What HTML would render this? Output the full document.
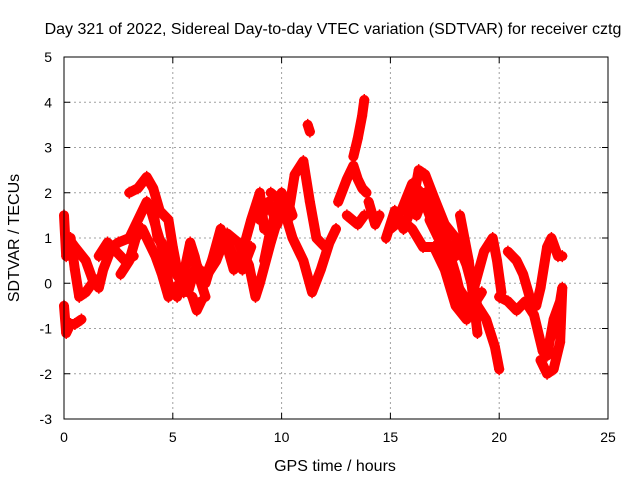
<!DOCTYPE html>
<html><head><meta charset="utf-8"><style>
body{margin:0;background:#fff}
svg{display:block;font-family:"Liberation Sans",sans-serif}
</style></head><body>
<svg id="chart" width="640" height="480">
<text x="333" y="34" font-size="16" text-anchor="middle">Day 321 of 2022, Sidereal Day-to-day VTEC variation (SDTVAR) for receiver cztg</text>
<text x="335" y="471" font-size="16" text-anchor="middle">GPS time / hours</text>
<text x="19" y="238" font-size="16" text-anchor="middle" transform="rotate(-90 19 238)">SDTVAR / TECUs</text>
<g id="grid"></g><g id="marks"></g>
<rect x="64" y="57" width="544" height="362" fill="none" stroke="#000" stroke-width="1"/>
</svg>
<script>
const xTicks=[0,5,10,15,20,25];
const yTicks=[-3,-2,-1,0,1,2,3,4,5];
const trackTimes=[
[0,0.1,0.3,0.5,0.7,1.0,1.3,1.6],
[0,0.1,0.3,0.5,0.8],
[0.2,0.5,1.0,1.3,1.6,1.8,2.2,2.5,3.0,3.5,3.8,4.1,4.3,4.6,5.0],
[3.0,3.4,3.8,4.1,4.4,4.8,5.0,5.2,5.5],
[2.6,3.0,3.3,3.6,3.9,4.2,4.5,4.8,5.0,5.3],
[4.0,4.5,4.8,5.2,5.5,5.8,6.0,6.3,6.5],
[5.9,6.1,6.3],
[6.5,7.0,7.5,8.0,8.5,8.8,9.0,9.5,10.0],
[6.8,7.2,7.5,7.8,8.2,8.6,9.0,9.2],
[9.2,9.5,10.0,10.3,10.6,11.0,11.3,11.6,12.0],
[9.5,10.0,10.5,11.0,11.4,11.8,12.2,12.5],
[11.2,11.3],
[12.6,13.0,13.3,13.5,13.7,13.9],
[13.3,13.5,13.7,13.8],
[13.0,13.5,13.8],
[14.0,14.3,14.5],
[14.8,15.2,15.6,16.0,16.3,16.6,17.0,17.5,18.0,18.5,19.0,19.4,19.8,20.0],
[15.0,15.5,16.0,16.5,17.0,17.5,18.0,18.5,19.0],
[16.2,16.6,17.0,17.5,18.0,18.3,18.6,18.9,19.3,19.7,19.9,20.1],
[18.2,18.6,19.0],
[20.4,20.8,21.1,21.4,21.7,21.9,22.2,22.4,22.7,22.9],
[20.0,20.4,20.8,21.2,21.6,22.0,22.2,22.5,22.8,22.9,22.8,22.5,22.2,21.9],
[4.5,4.9,5.3,5.7,6.0,6.4,6.8,7.2],
[5.6,5.9,6.2,6.6,7.0,7.4,7.8,8.2,8.6],
[1.6,2.0,2.4,2.8,3.2],
[9.0,9.4,9.8,10.2,10.5],
[15.5,16.0,16.4,16.8,17.2,17.6,18.0],
[16.8,17.2,17.6,18.0,18.4,18.8,19.2]
];
const trackValues=[
[1.5,0.6,1.0,0.3,-0.3,-0.2,0.0,0.1],
[-0.5,-1.1,-0.9,-0.9,-0.8],
[1.0,0.8,0.5,0.1,-0.1,0.3,0.8,0.9,1.0,1.5,1.8,1.6,1.0,0.8,0.5],
[2.0,2.1,2.35,2.1,1.6,1.4,0.8,0.3,-0.2],
[0.2,0.5,1.0,1.2,0.9,0.6,0.2,-0.3,-0.2,0.0],
[1.6,0.8,0.0,-0.3,0.2,0.9,0.6,0.0,-0.3],
[-0.3,-0.6,-0.4],
[0.0,0.8,1.1,0.9,0.4,-0.3,0.0,0.9,1.7],
[0.5,1.2,0.8,0.3,0.7,1.4,2.0,1.2],
[0.5,1.2,2.0,1.5,2.4,2.7,1.8,1.0,0.8],
[2.0,1.8,1.0,0.5,-0.2,0.3,0.9,1.2],
[3.5,3.35],
[1.8,2.3,2.6,2.3,2.1,2.0],
[2.8,3.2,3.7,4.05],
[1.5,1.3,1.5],
[1.8,1.3,1.5],
[1.0,1.6,1.2,1.7,2.5,2.4,1.9,1.3,1.0,0.4,-0.5,-0.8,-1.4,-1.9],
[1.2,1.4,1.2,0.8,0.8,0.3,-0.5,-0.8,-0.3],
[1.5,2.0,1.6,1.0,0.2,-0.4,-0.6,0.0,0.7,1.0,0.5,-0.2],
[1.5,0.5,-1.1],
[0.7,0.5,0.2,-0.3,-0.5,-0.1,0.8,1.0,0.6,0.6],
[-0.3,-0.4,-0.6,-0.4,-0.7,-1.5,-1.6,-0.8,-0.4,-0.1,-1.3,-1.9,-2.0,-1.7],
[0.9,0.4,0.1,-0.2,0.3,0.0,0.5,0.9],
[0.4,0.6,0.3,0.2,0.5,1.0,0.6,0.3,0.8],
[0.6,0.9,0.7,0.5,0.6],
[1.4,1.8,1.3,1.9,1.5],
[1.6,2.2,2.0,1.5,1.2,0.9,0.6],
[1.4,1.0,0.6,0.0,-0.3,-0.5,-0.2]
];
const X0=64,X1=608,Y0=419,Y1=57;
const sx=t=>X0+(t-0)/(25-0)*(X1-X0);
const sy=v=>Y0-(v+3)/8*(Y0-Y1);
const NS="http://www.w3.org/2000/svg";
const grid=document.getElementById('grid'),marks=document.getElementById('marks');
function mk(tag,attrs,parent){const e=document.createElementNS(NS,tag);for(const k in attrs)e.setAttribute(k,attrs[k]);parent.appendChild(e);return e;}
xTicks.forEach(t=>{const x=sx(t);
 if(t>0&&t<25){const g=mk('line',{x1:x,x2:x,y1:Y1,y2:Y0,stroke:'#a0a0a0','stroke-dasharray':'2,3'},grid);
 
 }
 mk('line',{x1:x,x2:x,y1:Y0,y2:Y0-6,stroke:'#000'},grid);
 mk('line',{x1:x,x2:x,y1:Y1,y2:Y1+6,stroke:'#000'},grid);
 const l=mk('text',{x:x,y:442,'font-size':14,'text-anchor':'middle'},grid);l.textContent=t;
 
 
});
yTicks.forEach(v=>{const y=sy(v);
 if(v>-3&&v<5){const g=mk('line',{x1:X0,x2:X1,y1:y,y2:y,stroke:'#a0a0a0','stroke-dasharray':'2,3'},grid);
 
 }
 mk('line',{x1:X0,x2:X0+6,y1:y,y2:y,stroke:'#000'},grid);
 mk('line',{x1:X1,x2:X1-6,y1:y,y2:y,stroke:'#000'},grid);
 const l=mk('text',{x:52,y:y+5,'font-size':14,'text-anchor':'end'},grid);l.textContent=v;
 
 
});
trackTimes.forEach((ts,i)=>{
 const vs=trackValues[i];
 const pts=ts.map((t,j)=>sx(t)+','+sy(vs[j])).join(' ');
 const pl=mk('polyline',{points:pts,fill:'none',stroke:'#ff0000','stroke-width':10,'stroke-linejoin':'round','stroke-linecap':'round'},marks);
 
 
 ts.forEach((t,j)=>{
  const x=sx(t),y=sy(vs[j]);
  const p=mk('path',{d:`M${x-5},${y}h10M${x},${y-6}v12`,stroke:'#ff0000','stroke-width':1.5},marks);
  
  
 });
});
</script>
</body></html>
